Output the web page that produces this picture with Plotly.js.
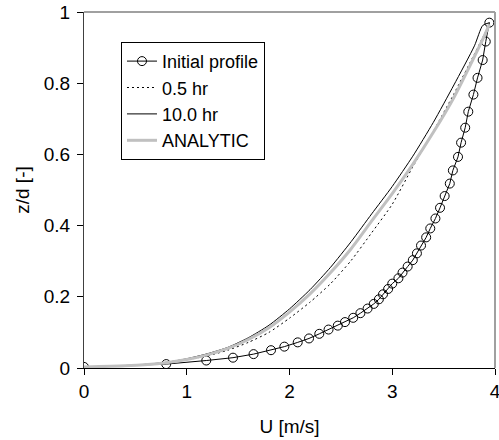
<!DOCTYPE html>
<html>
<head>
<meta charset="utf-8">
<script src="https://cdn.plot.ly/plotly-3.0.1.min.js"></script>
<style>html,body{margin:0;padding:0;background:#fff;}#chart{width:499px;height:440px;}</style>
</head>
<body>
<div id="chart"></div>
<script>
// Initial profile (markers)
const initU = [0, 0.80, 1.19, 1.45, 1.65, 1.82, 1.95, 2.08, 2.19, 2.29, 2.38, 2.47, 2.54, 2.62, 2.69, 2.76, 2.82, 2.87, 2.91, 2.96, 3.00, 3.06, 3.10, 3.15, 3.20, 3.24, 3.28, 3.33, 3.37, 3.42, 3.465, 3.51, 3.56, 3.59, 3.64, 3.67, 3.71, 3.74, 3.79, 3.83, 3.88, 3.91, 3.945];
const initZ = [0.003, 0.011, 0.021, 0.029, 0.039, 0.05, 0.06, 0.072, 0.083, 0.096, 0.108, 0.119, 0.129, 0.141, 0.154, 0.167, 0.18, 0.193, 0.207, 0.222, 0.237, 0.252, 0.268, 0.285, 0.303, 0.322, 0.344, 0.367, 0.392, 0.42, 0.45, 0.483, 0.518, 0.555, 0.593, 0.633, 0.675, 0.72, 0.768, 0.815, 0.865, 0.917, 0.970];

// 0.5 hr (dotted)
const halfU = [0, 0.4, 0.8, 1.0, 1.2, 1.4, 1.6, 1.8, 2.0, 2.2, 2.4, 2.6, 2.8, 3.0, 3.2, 3.4, 3.6, 3.8, 3.9, 3.945];
const halfZ = [0.003, 0.006, 0.015, 0.023, 0.034, 0.05, 0.072, 0.1, 0.14, 0.185, 0.237, 0.302, 0.38, 0.46, 0.565, 0.665, 0.77, 0.882, 0.94, 0.970];

// 10.0 hr (solid)
const tenU = [0, 0.4, 0.8, 1.0, 1.2, 1.4, 1.6, 1.8, 2.0, 2.2, 2.4, 2.6, 2.8, 3.0, 3.2, 3.4, 3.6, 3.8, 3.88, 3.945];
const tenZ = [0.003, 0.006, 0.016, 0.026, 0.04, 0.058, 0.085, 0.12, 0.166, 0.22, 0.283, 0.355, 0.433, 0.51, 0.595, 0.69, 0.795, 0.905, 0.962, 0.970];

// Analytic (thick grey)
const anaU = [0, 0.4, 0.8, 1.0, 1.2, 1.4, 1.6, 1.8, 2.0, 2.2, 2.4, 2.6, 2.8, 3.0, 3.2, 3.4, 3.6, 3.8, 3.9, 3.945];
const anaZ = [0.003, 0.006, 0.015, 0.024, 0.037, 0.055, 0.08, 0.113, 0.157, 0.208, 0.268, 0.335, 0.413, 0.49, 0.572, 0.662, 0.76, 0.875, 0.935, 0.965];

const names = ["Initial profile", "0.5 hr", "10.0 hr", "ANALYTIC"];
const xTicks = [0, 1, 2, 3, 4];
const yTicks = [0, 0.2, 0.4, 0.6, 0.8, 1];
const yTickText = ["0", "0.2", "0.4", "0.6", "0.8", "1"];

const font = "Liberation Sans, Arial, sans-serif";

const traces = [
  {x: initU, y: initZ, name: names[0], mode: "lines+markers", type: "scatter",
   line: {color: "#000", width: 1},
   marker: {symbol: "circle-open", size: 9, color: "#000", line: {width: 1, color: "#000"}}},
  {x: halfU, y: halfZ, name: names[1], mode: "lines", type: "scatter",
   line: {color: "#000", width: 1, dash: "2px,3px", shape: "spline", smoothing: 0.6}},
  {x: tenU, y: tenZ, name: names[2], mode: "lines", type: "scatter",
   line: {color: "#000", width: 1, shape: "spline", smoothing: 0.6}},
  {x: anaU, y: anaZ, name: names[3], mode: "lines", type: "scatter",
   line: {color: "#c0c0c0", width: 3, shape: "spline", smoothing: 0.6}}
];

const layout = {
  width: 499, height: 440,
  margin: {l: 84, r: 4, t: 12, b: 72},
  paper_bgcolor: "#fff", plot_bgcolor: "#fff",
  font: {family: font, size: 19, color: "#000"},
  showlegend: true,
  legend: {x: 0.09, y: 0.916, xanchor: "left", yanchor: "top",
           bgcolor: "#fff", bordercolor: "#000", borderwidth: 1,
           font: {family: font, size: 18, color: "#000"},
           traceorder: "normal", tracegroupgap: 0, itemwidth: 30},
  xaxis: {range: [0, 4], tickvals: xTicks, ticktext: xTicks.map(String),
          ticks: "outside", ticklen: 6, tickcolor: "#000", tickwidth: 1,
          ticklabeloverflow: "allow",
          showline: true, linecolor: "#000", linewidth: 1,
          showgrid: false, zeroline: false,
          tickfont: {family: font, size: 19, color: "#000"},
          title: {text: "U [m/s]", font: {family: font, size: 19, color: "#000"}, standoff: 18}},
  yaxis: {range: [0, 1], tickvals: yTicks, ticktext: yTickText,
          ticks: "outside", ticklen: 6, tickcolor: "#000", tickwidth: 1,
          ticklabelstandoff: 3, ticklabeloverflow: "allow",
          showline: true, linecolor: "#404040", linewidth: 1,
          showgrid: false, zeroline: false,
          tickfont: {family: font, size: 19, color: "#000"},
          title: {text: "z/d [-]", font: {family: font, size: 19, color: "#000"}, standoff: 9}},
  shapes: [
    {type: "line", xref: "paper", yref: "paper", x0: 0, x1: 1, y0: 1, y1: 1, line: {color: "#a0a0a0", width: 2}},
    {type: "line", xref: "paper", yref: "paper", x0: 1, x1: 1, y0: 0, y1: 1, line: {color: "#a0a0a0", width: 2}}
  ]
};

Plotly.newPlot("chart", traces, layout, {displayModeBar: false, staticPlot: true});
</script>
</body>
</html>
